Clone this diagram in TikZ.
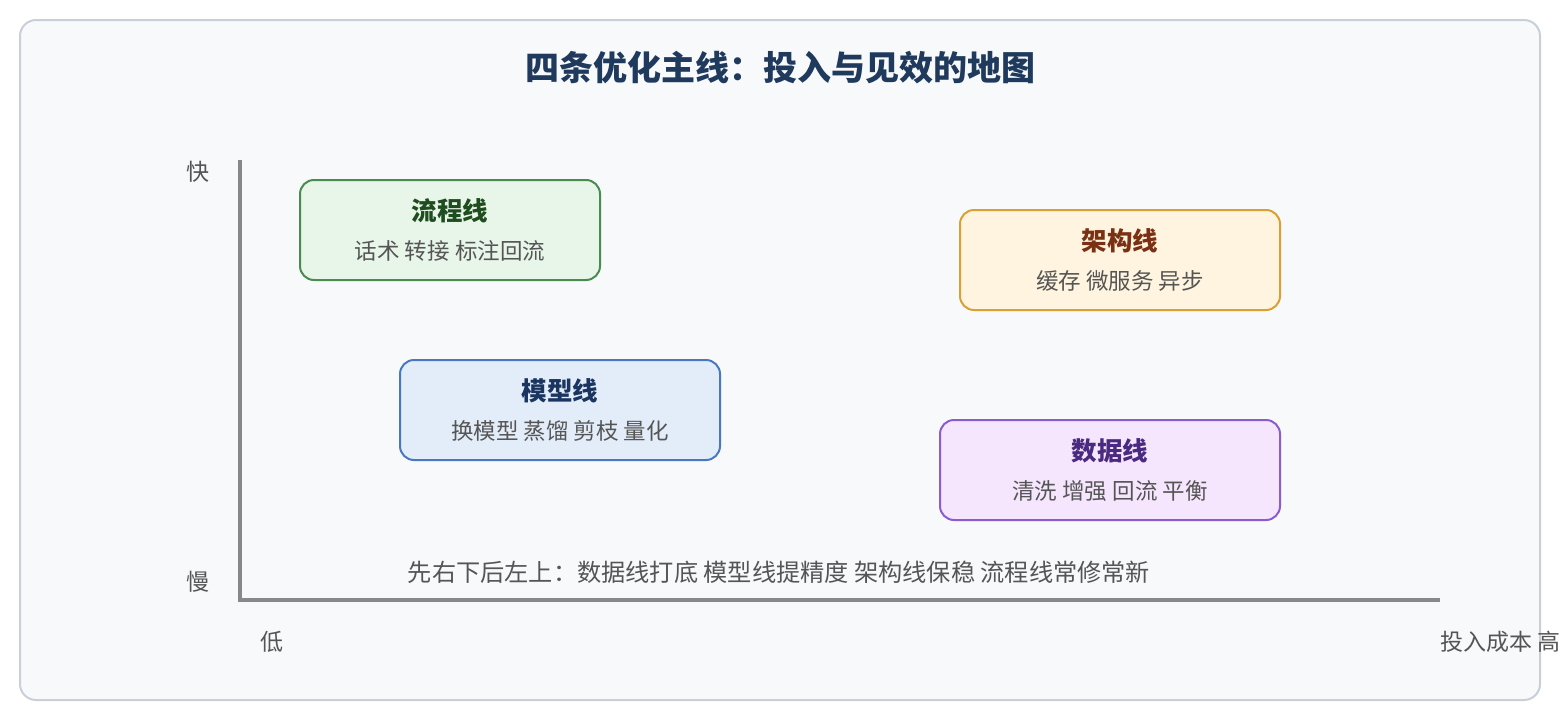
\documentclass[tikz,border=0pt]{standalone}
\usepackage{fontspec}
\setmainfont{Noto Sans CJK SC}
\usepackage{xcolor}
\usetikzlibrary{positioning}

\definecolor{bgpaper}{HTML}{F7F9FB}
\definecolor{bgframe}{HTML}{C8CFD9}
\definecolor{titleink}{HTML}{1F3A5C}
\definecolor{axisgray}{HTML}{888888}
\definecolor{noteink}{HTML}{555555}
\definecolor{flowfill}{HTML}{E8F5E9}
\definecolor{flowdraw}{HTML}{4A8C50}
\definecolor{flowink}{HTML}{1F4D1F}
\definecolor{modelfill}{HTML}{E3EDF9}
\definecolor{modeldraw}{HTML}{4A78C0}
\definecolor{modelink}{HTML}{1A3560}
\definecolor{archfill}{HTML}{FFF4E0}
\definecolor{archdraw}{HTML}{D9A033}
\definecolor{archink}{HTML}{7A3012}
\definecolor{datafill}{HTML}{F5E6FD}
\definecolor{datadraw}{HTML}{8A5CD0}
\definecolor{dataink}{HTML}{4A2A80}

\tikzset{
  linebox/.style = {draw, rectangle, rounded corners=14pt, line width=2pt,
                    minimum height=100pt, inner sep=0pt},
  boxtitle/.style = {font=\fontsize{25.5}{30}\selectfont\bfseries, inner sep=0pt},
  boxsub/.style = {font=\fontsize{22.5}{26}\selectfont, text=noteink, inner sep=0pt},
  axislabel/.style = {font=\fontsize{23}{27}\selectfont, text=noteink, inner sep=0pt},
  axisline/.style = {draw=axisgray, line width=4pt, line join=miter},
}

\begin{document}
\begin{tikzpicture}[x=1pt, y=-1pt]
  \useasboundingbox (0,0) rectangle (1560,720);
  \draw[fill=bgpaper, draw=bgframe, line width=2pt, rounded corners=16pt]
    (20,20) rectangle (1540,700);

  \node[font=\fontsize{34}{40}\selectfont\bfseries, text=titleink] (title) at (780,68)
    {四条优化主线：投入与见效的地图};

  % axes
  \coordinate (ytop) at (240,160);
  \coordinate (orig) at (240,600);
  \coordinate (xend) at (1440,600);
  \draw[axisline] (ytop) -- (orig) -- (xend);

  \node[axislabel] (fast) at (198,172) {快};
  \node[axislabel] (slow) at (198,582) {慢};
  \node[axislabel] (low) at (272,642) {低};
  \node[axislabel, anchor=west] (high) at (1440,642) {投入成本 高};

  % four lines
  \node[linebox, fill=flowfill, draw=flowdraw, minimum width=300pt] (flow) at (450,230) {};
  \node[boxtitle, text=flowink] (flowt) at ([yshift=-32pt]flow.north) {流程线};
  \node[boxsub] (flows) at ([yshift=-72pt]flow.north) {话术 转接 标注回流};

  \node[linebox, fill=modelfill, draw=modeldraw, minimum width=320pt] (model) at (560,410) {};
  \node[boxtitle, text=modelink] (modelt) at ([yshift=-32pt]model.north) {模型线};
  \node[boxsub] (models) at ([yshift=-72pt]model.north) {换模型 蒸馏 剪枝 量化};

  \node[linebox, fill=archfill, draw=archdraw, minimum width=320pt] (arch) at (1120,260) {};
  \node[boxtitle, text=archink] (archt) at ([yshift=-32pt]arch.north) {架构线};
  \node[boxsub] (archs) at ([yshift=-72pt]arch.north) {缓存 微服务 异步};

  \node[linebox, fill=datafill, draw=datadraw, minimum width=340pt] (data) at (1110,470) {};
  \node[boxtitle, text=dataink] (datat) at ([yshift=-32pt]data.north) {数据线};
  \node[boxsub] (datas) at ([yshift=-72pt]data.north) {清洗 增强 回流 平衡};

  \node[font=\fontsize{24.2}{28}\selectfont, text=noteink, inner sep=0pt] (note) at (779,572)
    {先右下后左上：数据线打底 模型线提精度 架构线保稳 流程线常修常新};
\end{tikzpicture}
\end{document}
